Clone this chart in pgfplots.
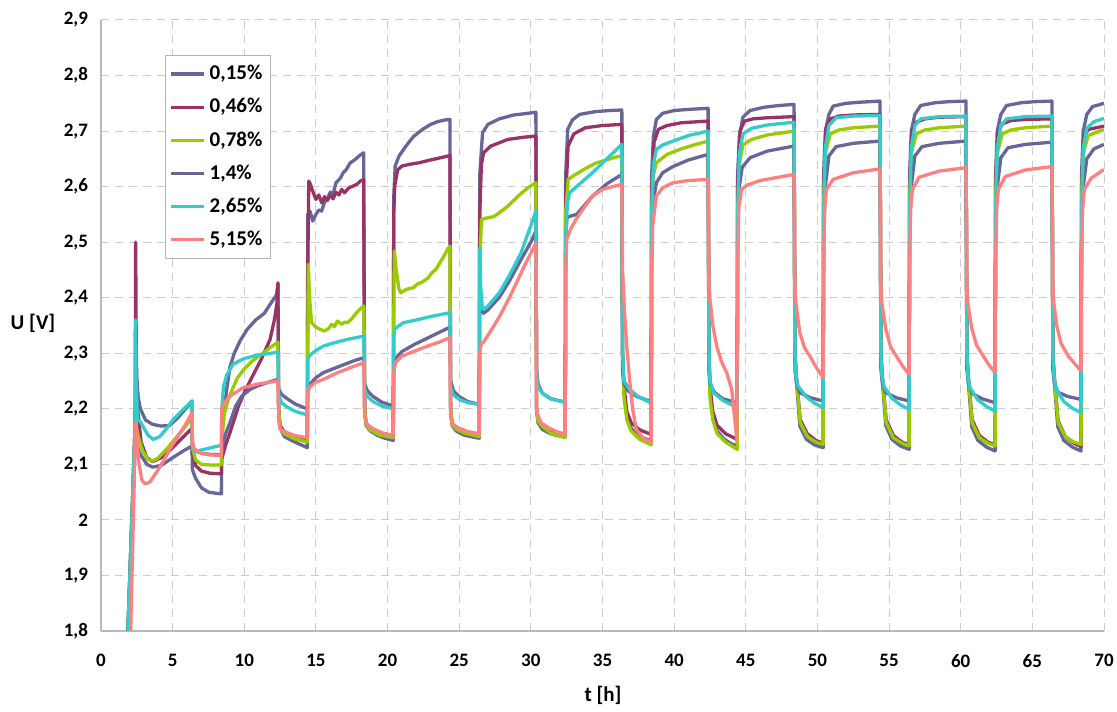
\documentclass[border=0pt]{standalone}
\usepackage{fontspec}
\setmainfont{Carlito}
\usepackage{pgfplots}
\pgfplotsset{compat=1.18}
\definecolor{cSlate}{RGB}{102,102,153}
\definecolor{cMaroon}{RGB}{153,51,102}
\definecolor{cGreen}{RGB}{153,204,0}
\definecolor{cCyan}{RGB}{51,204,204}
\definecolor{cPink}{RGB}{255,128,128}
\begin{document}
\begin{tikzpicture}
\begin{axis}[
  scale only axis, width=501.5pt, height=305.5pt,
  xmin=0, xmax=70, ymin=1.8, ymax=2.9,
  xtick={0,5,10,15,20,25,30,35,40,45,50,55,60,65,70},
  ytick={1.8,1.9,2,2.1,2.2,2.3,2.4,2.5,2.6,2.7,2.8,2.9},
  axis x line*=bottom, axis y line*=left,
  axis line style={draw=gray!55, line width=0.6pt, -},
  major tick length=0pt,
  grid=major,
  major grid style={gray!40, line width=0.5pt, dash pattern=on 4pt off 3pt},
  /pgf/number format/use comma,
  /pgf/number format/assume math mode=true,
  ticklabel style={font=\fontsize{9.5}{11}\selectfont\bfseries},
  yticklabel style={xshift=-3pt},
  xticklabel style={yshift=-8pt},
  xlabel={t [h]}, ylabel={U [V]},
  xlabel style={at={(axis description cs:0.5005,-0.1047)}, anchor=center, font=\fontsize{10.5}{12}\selectfont\bfseries},
  ylabel style={at={(axis description cs:-0.0678,0.504)}, anchor=center, rotate=-90, font=\fontsize{10.5}{12}\selectfont\bfseries},
  legend style={at={(axis description cs:0.0638,0.9427)}, anchor=north west, draw=gray!60, fill=white,
    font=\fontsize{10.5}{12.5}\selectfont\bfseries, inner xsep=2pt, inner ysep=3pt, row sep=3.8pt},
  legend cell align=left,
  legend image code/.code={\draw[#1] (0pt,0pt) -- (16.5pt,0pt);},
  every axis plot/.append style={line width=1.65pt, line join=round, mark=none},
]
% 0,15%
\addplot[cSlate] coordinates {
(1.88,1.80) (2.40,2.16) (2.45,2.14) (2.7,2.12) (3.2,2.10) (3.6,2.095) (4.2,2.098) (5.0,2.112) (5.8,2.125) (6.35,2.133)
(6.38,2.09) (6.6,2.075) (7.0,2.058) (7.5,2.05) (8.0,2.048) (8.4,2.047)
(8.43,2.15) (8.6,2.2) (8.8,2.24) (9.0,2.275) (9.3,2.30) (9.7,2.322) (10.2,2.343) (10.8,2.36) (11.4,2.372) (11.9,2.392) (12.25,2.405) (12.35,2.425)
(12.4,2.2) (12.5,2.165) (12.8,2.15) (13.3,2.143) (13.8,2.137) (14.4,2.13)
(14.43,2.55) (14.6,2.555) (14.77,2.538) (15.0,2.55) (15.2,2.558) (15.4,2.556) (15.6,2.572) (15.8,2.578) (16.0,2.59) (16.2,2.587) (16.4,2.607) (16.7,2.615) (16.9,2.625) (17.1,2.63) (17.4,2.643) (17.7,2.648) (18.0,2.655) (18.33,2.661)
(18.4,2.2) (18.5,2.17) (18.8,2.16) (19.3,2.152) (19.8,2.147) (20.4,2.143)
(20.43,2.58) (20.53,2.637) (20.8,2.655) (21.28,2.673) (21.8,2.69) (22.44,2.703) (23.0,2.712) (23.5,2.717) (24.0,2.72) (24.35,2.721)
(24.4,2.2) (24.5,2.17) (24.8,2.16) (25.3,2.153) (25.8,2.15) (26.4,2.147)
(26.43,2.62) (26.63,2.697) (27.0,2.712) (27.8,2.722) (28.8,2.729) (29.8,2.732) (30.35,2.734)
(30.4,2.2) (30.5,2.175) (30.8,2.163) (31.3,2.156) (31.8,2.152) (32.4,2.149)
(32.43,2.62) (32.57,2.703) (32.9,2.72) (33.4,2.73) (34.5,2.735) (35.5,2.737) (36.35,2.738)
(36.4,2.3) (36.5,2.23) (36.7,2.185) (37.0,2.165) (37.5,2.152) (38.0,2.146) (38.4,2.143)
(38.43,2.62) (38.55,2.69) (38.76,2.721) (39.2,2.732) (40.0,2.737) (41.0,2.739) (42.37,2.741)
(42.43,2.3) (42.5,2.23) (42.7,2.185) (43.0,2.16) (43.5,2.145) (44.0,2.137) (44.4,2.133)
(44.43,2.62) (44.55,2.69) (44.8,2.725) (45.3,2.737) (46.3,2.743) (47.3,2.746) (48.37,2.748)
(48.43,2.3) (48.53,2.253) (48.77,2.169) (49.23,2.145) (49.8,2.135) (50.4,2.13)
(50.43,2.62) (50.55,2.7) (50.8,2.73) (51.1,2.745) (52.0,2.75) (53.0,2.752) (54.37,2.754)
(54.43,2.3) (54.53,2.25) (54.77,2.17) (55.2,2.145) (55.8,2.133) (56.4,2.127)
(56.43,2.62) (56.55,2.7) (56.8,2.73) (57.2,2.746) (58.2,2.751) (59.2,2.753) (60.37,2.754)
(60.43,2.3) (60.53,2.25) (60.77,2.168) (61.2,2.143) (61.8,2.131) (62.4,2.124)
(62.43,2.62) (62.55,2.7) (62.8,2.73) (63.2,2.746) (64.2,2.751) (65.2,2.753) (66.37,2.754)
(66.43,2.3) (66.53,2.25) (66.77,2.168) (67.2,2.143) (67.8,2.131) (68.4,2.124)
(68.43,2.62) (68.55,2.7) (68.8,2.73) (69.2,2.744) (70,2.75)
};
\addlegendentry{0,15\%}
% 0,46%
\addplot[cMaroon] coordinates {
(1.88,1.80) (2.38,2.17) (2.42,2.5) (2.46,2.3) (2.55,2.2) (2.8,2.14) (3.2,2.112) (3.6,2.105) (4.2,2.112) (4.8,2.125) (5.5,2.143) (6.35,2.165)
(6.38,2.12) (6.6,2.098) (7.0,2.088) (7.6,2.084) (8.4,2.083)
(8.43,2.11) (8.7,2.135) (9.0,2.157) (9.6,2.205) (10.1,2.235) (10.6,2.26) (11.2,2.29) (11.8,2.325) (12.1,2.36) (12.28,2.39) (12.35,2.427)
(12.4,2.2) (12.5,2.17) (12.8,2.158) (13.4,2.15) (14.4,2.143)
(14.43,2.45) (14.5,2.61) (14.6,2.605) (14.8,2.59) (15.0,2.577) (15.2,2.585) (15.4,2.571) (15.6,2.582) (15.8,2.575) (16.0,2.585) (16.2,2.578) (16.4,2.59) (16.6,2.585) (16.8,2.595) (17.0,2.589) (17.3,2.598) (17.6,2.601) (17.9,2.605) (18.1,2.61) (18.33,2.613)
(18.4,2.2) (18.5,2.175) (18.8,2.163) (19.4,2.155) (20.4,2.15)
(20.43,2.55) (20.5,2.601) (20.7,2.63) (21.0,2.637) (21.5,2.64) (22.2,2.643) (23.0,2.648) (23.7,2.652) (24.35,2.656)
(24.4,2.2) (24.5,2.175) (24.8,2.163) (25.4,2.157) (26.4,2.152)
(26.43,2.55) (26.55,2.64) (26.7,2.661) (27.2,2.673) (28.4,2.685) (29.5,2.689) (30.35,2.691)
(30.4,2.2) (30.5,2.178) (30.8,2.167) (31.4,2.158) (32.4,2.152)
(32.43,2.58) (32.6,2.673) (33.0,2.695) (33.8,2.706) (35.0,2.71) (36.35,2.712)
(36.4,2.3) (36.5,2.24) (36.7,2.195) (37.0,2.175) (37.6,2.162) (38.4,2.154)
(38.43,2.58) (38.6,2.68) (38.9,2.703) (39.5,2.71) (40.5,2.715) (42.37,2.718)
(42.43,2.3) (42.5,2.24) (42.7,2.195) (43.0,2.17) (43.6,2.155) (44.4,2.145)
(44.43,2.6) (44.6,2.7) (44.9,2.718) (45.5,2.722) (46.5,2.724) (48.37,2.726)
(48.43,2.3) (48.53,2.26) (48.8,2.18) (49.3,2.155) (49.9,2.143) (50.4,2.138)
(50.43,2.6) (50.6,2.705) (50.9,2.722) (51.5,2.727) (52.5,2.729) (54.37,2.73)
(54.43,2.3) (54.53,2.26) (54.8,2.18) (55.3,2.152) (55.9,2.14) (56.4,2.135)
(56.43,2.6) (56.6,2.7) (56.9,2.716) (57.5,2.722) (58.5,2.725) (60.37,2.726)
(60.43,2.3) (60.53,2.26) (60.8,2.18) (61.3,2.152) (61.9,2.14) (62.4,2.135)
(62.43,2.6) (62.6,2.698) (62.9,2.713) (63.5,2.719) (64.5,2.721) (66.37,2.722)
(66.43,2.3) (66.53,2.26) (66.8,2.178) (67.3,2.15) (67.9,2.138) (68.4,2.132)
(68.43,2.6) (68.6,2.69) (68.9,2.703) (70,2.709)
};
\addlegendentry{0,46\%}
% 0,78%
\addplot[cGreen] coordinates {
(1.88,1.80) (2.38,2.17) (2.42,2.2) (2.45,2.17) (2.6,2.15) (2.9,2.125) (3.3,2.108) (3.6,2.106) (4.0,2.112) (4.6,2.128) (5.3,2.15) (5.8,2.165) (6.35,2.185)
(6.38,2.13) (6.6,2.108) (7.0,2.1) (7.6,2.099) (8.4,2.099)
(8.43,2.14) (8.6,2.19) (8.8,2.21) (9.0,2.225) (9.5,2.255) (10.0,2.272) (10.6,2.287) (11.2,2.298) (11.8,2.31) (12.35,2.32)
(12.4,2.2) (12.5,2.165) (12.8,2.155) (13.4,2.147) (14.4,2.14)
(14.43,2.3) (14.47,2.46) (14.55,2.40) (14.7,2.355) (15.0,2.347) (15.3,2.343) (15.6,2.34) (15.9,2.345) (16.1,2.352) (16.3,2.348) (16.5,2.358) (16.8,2.352) (17.0,2.356) (17.2,2.355) (17.5,2.362) (17.8,2.372) (18.1,2.38) (18.35,2.385)
(18.4,2.2) (18.5,2.172) (18.8,2.162) (19.4,2.153) (20.4,2.148)
(20.43,2.35) (20.47,2.484) (20.6,2.45) (20.8,2.415) (20.93,2.409) (21.3,2.415) (21.8,2.418) (22.1,2.425) (22.4,2.428) (22.8,2.435) (23.1,2.445) (23.4,2.452) (23.7,2.465) (24.0,2.478) (24.2,2.488) (24.35,2.493)
(24.4,2.2) (24.5,2.172) (24.8,2.163) (25.4,2.156) (26.4,2.15)
(26.43,2.45) (26.55,2.541) (27.0,2.544) (27.4,2.546) (27.8,2.553) (28.4,2.565) (29.2,2.585) (29.8,2.598) (30.35,2.607)
(30.4,2.2) (30.5,2.178) (30.8,2.168) (31.4,2.156) (32.4,2.148)
(32.43,2.55) (32.6,2.613) (33.0,2.62) (33.7,2.631) (34.5,2.642) (35.5,2.65) (36.35,2.656)
(36.4,2.3) (36.5,2.22) (36.7,2.18) (37.0,2.16) (37.6,2.145) (38.4,2.135)
(38.43,2.55) (38.55,2.62) (38.76,2.643) (39.5,2.658) (40.5,2.668) (41.5,2.676) (42.37,2.682)
(42.43,2.3) (42.5,2.22) (42.7,2.18) (43.0,2.155) (43.6,2.14) (44.4,2.127)
(44.43,2.55) (44.55,2.64) (44.8,2.675) (45.4,2.685) (46.5,2.693) (48.37,2.7)
(48.43,2.3) (48.53,2.255) (48.8,2.175) (49.3,2.15) (49.9,2.14) (50.4,2.136)
(50.43,2.57) (50.55,2.66) (50.9,2.695) (51.5,2.702) (52.5,2.706) (54.37,2.709)
(54.43,2.3) (54.53,2.255) (54.8,2.175) (55.3,2.148) (55.9,2.138) (56.4,2.133)
(56.43,2.57) (56.55,2.66) (56.9,2.695) (57.5,2.702) (58.5,2.706) (60.37,2.709)
(60.43,2.3) (60.53,2.255) (60.8,2.175) (61.3,2.148) (61.9,2.138) (62.4,2.133)
(62.43,2.57) (62.55,2.66) (62.9,2.695) (63.5,2.702) (64.5,2.706) (66.37,2.709)
(66.43,2.3) (66.53,2.255) (66.8,2.175) (67.3,2.15) (67.9,2.14) (68.4,2.136)
(68.43,2.57) (68.55,2.66) (68.9,2.692) (70,2.703)
};
\addlegendentry{0,78\%}
% 1,4%
\addplot[cSlate] coordinates {
(1.88,1.80) (2.38,2.17) (2.42,2.3) (2.46,2.26) (2.6,2.22) (2.75,2.2) (3.1,2.18) (3.6,2.172) (4.2,2.169) (4.8,2.17) (5.4,2.185) (5.9,2.2) (6.35,2.214)
(6.38,2.14) (6.5,2.125) (7.0,2.12) (7.6,2.118) (8.4,2.117)
(8.43,2.13) (8.7,2.155) (9.0,2.175) (9.4,2.205) (9.8,2.222) (10.4,2.235) (11.0,2.242) (11.7,2.248) (12.35,2.253)
(12.4,2.235) (12.6,2.226) (13.0,2.218) (13.6,2.208) (14.4,2.2)
(14.43,2.235) (14.6,2.245) (15.0,2.256) (15.5,2.265) (16.2,2.272) (17.0,2.28) (17.7,2.287) (18.35,2.292)
(18.4,2.245) (18.6,2.232) (19.0,2.222) (19.6,2.212) (20.4,2.205)
(20.43,2.28) (20.6,2.292) (21.0,2.303) (21.8,2.315) (22.6,2.325) (23.4,2.335) (24.35,2.347)
(24.4,2.25) (24.6,2.232) (25.0,2.222) (25.6,2.213) (26.4,2.208)
(26.43,2.42) (26.5,2.39) (26.7,2.372) (27.0,2.378) (27.78,2.4) (28.5,2.43) (29.3,2.468) (30.0,2.5) (30.35,2.52)
(30.4,2.27) (30.5,2.245) (30.8,2.228) (31.4,2.218) (32.4,2.212)
(32.43,2.5) (32.52,2.545) (33.2,2.55) (33.7,2.565) (34.3,2.583) (35.3,2.605) (36.35,2.622)
(36.4,2.27) (36.5,2.245) (36.8,2.232) (37.4,2.222) (38.4,2.213)
(38.43,2.5) (38.55,2.575) (38.76,2.607) (39.2,2.625) (39.9,2.636) (41.0,2.648) (42.37,2.658)
(42.43,2.27) (42.5,2.245) (42.8,2.23) (43.4,2.218) (44.4,2.211)
(44.43,2.5) (44.55,2.6) (44.75,2.635) (45.3,2.652) (46.5,2.664) (48.37,2.673)
(48.43,2.27) (48.55,2.245) (48.77,2.229) (49.5,2.22) (50.4,2.214)
(50.43,2.5) (50.55,2.6) (50.8,2.655) (51.3,2.672) (52.5,2.678) (54.37,2.682)
(54.43,2.27) (54.55,2.245) (54.77,2.229) (55.5,2.22) (56.4,2.214)
(56.43,2.5) (56.55,2.6) (56.8,2.655) (57.3,2.672) (58.5,2.678) (60.37,2.682)
(60.43,2.27) (60.55,2.245) (60.77,2.228) (61.5,2.218) (62.4,2.211)
(62.43,2.5) (62.55,2.6) (62.8,2.652) (63.3,2.67) (64.5,2.676) (66.37,2.68)
(66.43,2.27) (66.55,2.245) (66.77,2.23) (67.5,2.222) (68.4,2.217)
(68.43,2.5) (68.55,2.6) (68.8,2.65) (69.3,2.668) (70,2.676)
};
\addlegendentry{1,4\%}
% 2,65%
\addplot[cCyan] coordinates {
(1.88,1.80) (2.38,2.17) (2.42,2.36) (2.45,2.25) (2.55,2.18) (2.72,2.178) (3.0,2.165) (3.3,2.152) (3.65,2.145) (4.1,2.15) (4.6,2.165) (5.05,2.181) (5.7,2.198) (6.35,2.214)
(6.38,2.13) (6.5,2.123) (7.2,2.127) (8.0,2.132) (8.4,2.134)
(8.43,2.2) (8.55,2.24) (8.77,2.26) (9.2,2.28) (9.93,2.29) (10.8,2.296) (11.6,2.299) (12.35,2.302)
(12.4,2.225) (12.6,2.211) (13.0,2.203) (13.6,2.195) (14.4,2.189)
(14.43,2.29) (14.6,2.297) (15.0,2.305) (15.53,2.313) (16.3,2.319) (17.2,2.325) (18.35,2.331)
(18.4,2.235) (18.6,2.222) (19.0,2.213) (19.6,2.205) (20.4,2.2)
(20.43,2.33) (20.5,2.343) (20.7,2.348) (21.1,2.355) (22.0,2.36) (23.0,2.366) (24.35,2.373)
(24.4,2.238) (24.6,2.225) (25.0,2.217) (25.6,2.211) (26.4,2.208)
(26.43,2.49) (26.5,2.42) (26.6,2.385) (26.7,2.379) (27.0,2.385) (27.8,2.409) (28.5,2.44) (29.3,2.48) (30.0,2.53) (30.35,2.556)
(30.4,2.265) (30.5,2.24) (30.8,2.228) (31.4,2.218) (32.4,2.211)
(32.43,2.5) (32.55,2.57) (32.7,2.589) (33.5,2.607) (34.3,2.625) (35.3,2.65) (36.35,2.676)
(36.4,2.3) (36.5,2.25) (36.89,2.235) (37.5,2.222) (38.4,2.21)
(38.43,2.55) (38.55,2.64) (38.76,2.667) (39.2,2.675) (39.93,2.682) (41.0,2.692) (42.37,2.7)
(42.43,2.3) (42.5,2.25) (42.75,2.229) (43.4,2.215) (44.4,2.202)
(44.43,2.55) (44.55,2.66) (44.8,2.695) (45.4,2.705) (46.5,2.711) (48.37,2.716)
(48.43,2.3) (48.5,2.26) (48.65,2.241) (49.2,2.222) (49.8,2.21) (50.4,2.202)
(50.43,2.55) (50.55,2.67) (50.8,2.71) (51.3,2.724) (52.5,2.727) (54.37,2.728)
(54.43,2.3) (54.5,2.26) (54.65,2.24) (55.2,2.219) (55.8,2.207) (56.4,2.199)
(56.43,2.55) (56.55,2.67) (56.8,2.71) (57.2,2.722) (58.5,2.726) (60.37,2.727)
(60.43,2.3) (60.5,2.26) (60.65,2.238) (61.2,2.216) (61.8,2.204) (62.4,2.196)
(62.43,2.55) (62.55,2.67) (62.8,2.71) (63.2,2.722) (64.5,2.726) (66.37,2.727)
(66.43,2.3) (66.5,2.26) (66.65,2.236) (67.2,2.213) (67.8,2.201) (68.4,2.193)
(68.43,2.55) (68.55,2.67) (68.8,2.705) (69.3,2.717) (70,2.723)
};
\addlegendentry{2,65\%}
% 5,15%
\addplot[cPink] coordinates {
(2.07,1.80) (2.42,2.175) (2.5,2.15) (2.65,2.1) (2.85,2.072) (3.07,2.065) (3.4,2.068) (3.88,2.086) (4.4,2.108) (4.93,2.133) (5.4,2.152) (5.86,2.17) (6.35,2.193)
(6.38,2.14) (6.5,2.128) (7.0,2.12) (7.6,2.117) (8.4,2.116)
(8.43,2.2) (8.6,2.21) (9.0,2.223) (9.93,2.238) (11.0,2.245) (12.35,2.25)
(12.4,2.18) (12.5,2.163) (12.9,2.158) (13.5,2.152) (14.4,2.148)
(14.43,2.232) (14.6,2.24) (15.0,2.248) (15.53,2.253) (16.5,2.265) (17.5,2.275) (18.35,2.283)
(18.4,2.185) (18.55,2.172) (19.0,2.164) (19.6,2.157) (20.4,2.152)
(20.43,2.265) (20.55,2.283) (21.0,2.295) (21.8,2.303) (22.8,2.313) (23.6,2.32) (24.35,2.328)
(24.4,2.185) (24.55,2.172) (25.0,2.165) (25.6,2.159) (26.4,2.155)
(26.43,2.3) (26.55,2.319) (26.67,2.319) (27.2,2.34) (27.83,2.367) (28.5,2.4) (29.0,2.427) (29.6,2.46) (30.0,2.48) (30.35,2.498)
(30.4,2.2) (30.47,2.19) (30.7,2.175) (31.3,2.165) (31.8,2.159) (32.4,2.154)
(32.43,2.45) (32.5,2.505) (32.8,2.525) (33.15,2.541) (33.6,2.558) (34.3,2.583) (35.0,2.595) (35.7,2.6) (36.35,2.604)
(36.4,2.45) (36.54,2.373) (36.7,2.31) (36.89,2.253) (37.1,2.2) (37.36,2.163) (37.8,2.148) (38.4,2.139)
(38.43,2.45) (38.5,2.53) (38.76,2.583) (39.2,2.598) (39.93,2.607) (41.0,2.611) (42.37,2.613)
(42.43,2.43) (42.5,2.397) (42.7,2.35) (42.97,2.313) (43.3,2.285) (43.67,2.265) (44.02,2.235) (44.2,2.19) (44.37,2.145)
(44.43,2.45) (44.5,2.56) (44.7,2.595) (45.1,2.603) (46.0,2.611) (47.3,2.617) (48.37,2.622)
(48.43,2.42) (48.5,2.39) (48.77,2.337) (49.1,2.31) (49.47,2.295) (49.9,2.275) (50.4,2.256)
(50.43,2.45) (50.5,2.56) (50.63,2.595) (51.1,2.613) (52.5,2.625) (54.37,2.632)
(54.43,2.42) (54.5,2.39) (54.77,2.343) (55.1,2.312) (55.5,2.295) (56.0,2.275) (56.4,2.262)
(56.43,2.45) (56.5,2.56) (56.63,2.595) (57.1,2.617) (58.5,2.628) (60.37,2.634)
(60.43,2.42) (60.5,2.39) (60.77,2.345) (61.1,2.315) (61.5,2.298) (62.0,2.278) (62.4,2.265)
(62.43,2.45) (62.5,2.56) (62.63,2.595) (63.1,2.618) (64.5,2.63) (66.37,2.636)
(66.43,2.42) (66.5,2.39) (66.7,2.35) (67.0,2.318) (67.5,2.295) (68.0,2.28) (68.4,2.268)
(68.43,2.45) (68.5,2.56) (68.63,2.595) (69.1,2.615) (70,2.631)
};
\addlegendentry{5,15\%}
\end{axis}
\pgfresetboundingbox
\path (-50.5pt,-40pt) rectangle (508pt,315.5pt);
\end{tikzpicture}
\end{document}
